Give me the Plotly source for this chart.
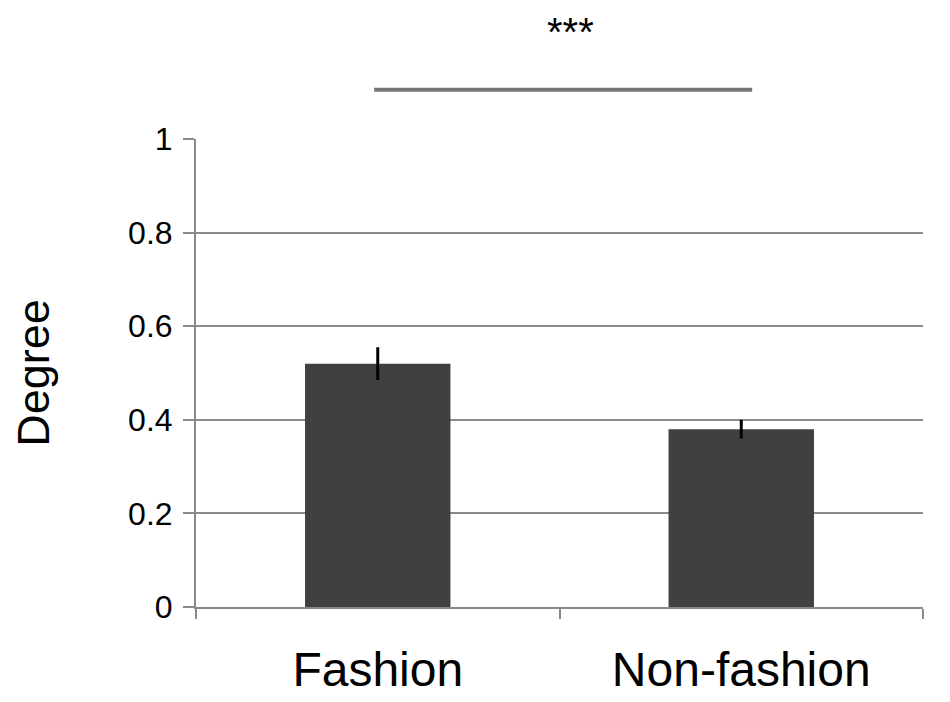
# Bar chart of mean degree for fashion vs non-fashion items, with error
# bars and a significance bracket above the two bars.

import plotly.graph_objects as go

categories = ["Fashion", "Non-fashion"]
degree = [0.52, 0.38]
degree_err = [0.035, 0.02]

y_ticks = [0, 0.2, 0.4, 0.6, 0.8, 1]
y_tick_labels = ["0", "0.2", "0.4", "0.6", "0.8", "1"]

# significance bracket between the two groups
sig_from = 0
sig_to = 1
sig_label = "***"

GRID = "#8a8a8a"
BAR = "#404040"
FONT = "Liberation Sans, Arial, sans-serif"

fig = go.Figure()
fig.add_trace(go.Bar(
    x=categories, y=degree,
    width=0.4,
    marker=dict(color=BAR, line=dict(width=0)),
    error_y=dict(type="data", array=degree_err, color="black",
                 thickness=3, width=0),
))

# bracket line + stars above the plot area
fig.add_shape(type="line", xref="x", yref="paper",
              x0=sig_from - 0.01, x1=sig_to + 0.03, y0=1.105, y1=1.105,
              line=dict(color="#777777", width=4))
fig.add_annotation(x=(sig_from + sig_to) / 2 + 0.03, y=1.28,
                   xref="x", yref="paper", text=sig_label,
                   showarrow=False, font=dict(size=40, color="black"))

fig.update_layout(
    width=950, height=702,
    margin=dict(l=188, r=35, t=131, b=103),
    plot_bgcolor="white",
    paper_bgcolor="white",
    showlegend=False,
    font=dict(family=FONT, color="black"),
)
fig.update_xaxes(
    range=[-0.5, 1.5],
    showline=True, linecolor=GRID, linewidth=2,
    ticks="outside", tickson="boundaries", ticklen=10,
    tickcolor=GRID, tickwidth=2,
    showgrid=False,
    tickfont=dict(size=48),
    ticklabelstandoff=19,
    automargin=False,
)
fig.update_yaxes(
    range=[0, 1],
    tickvals=y_ticks, ticktext=y_tick_labels,
    showline=True, linecolor=GRID, linewidth=2,
    ticks="outside", ticklen=11, tickcolor=GRID, tickwidth=2,
    showgrid=True, gridcolor=GRID, gridwidth=2,
    zeroline=False,
    tickfont=dict(size=32),
    ticklabelstandoff=4,
    automargin=False,
    title=dict(text="Degree", font=dict(size=45), standoff=78),
)

fig.write_html("out.html")
